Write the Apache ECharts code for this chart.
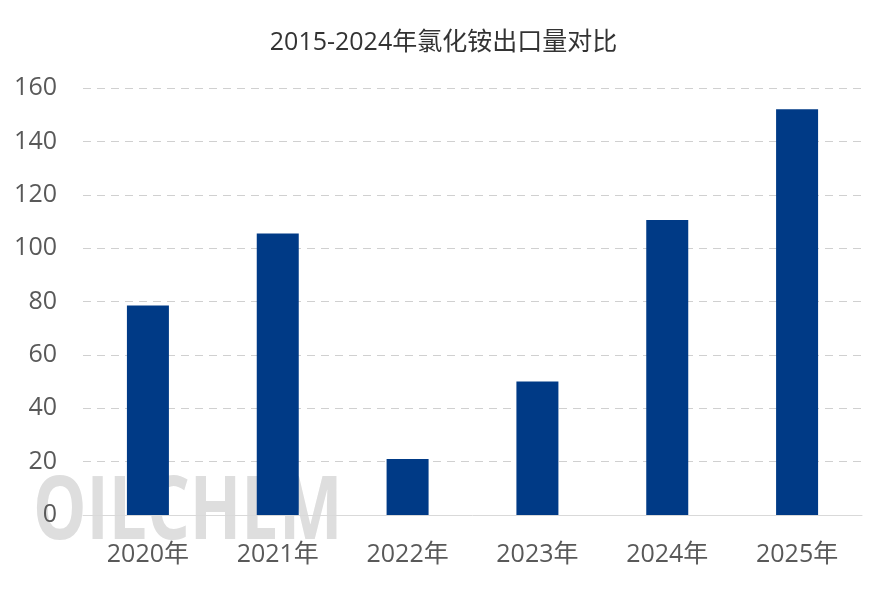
<!DOCTYPE html>
<html><head><meta charset="utf-8">
<script src="https://cdn.jsdelivr.net/npm/echarts@6/dist/echarts.min.js"></script>
<style>html,body{margin:0;padding:0;background:#fff}#c{width:887px;height:590px}</style>
</head><body><div id="c"></div>
<script>
const categories = ['2020年','2021年','2022年','2023年','2024年','2025年'];
const values = [78.5, 105.5, 21, 50, 110.5, 152];
const titleText = '2015-2024年氯化铵出口量对比';
const watermark = 'OILCHEM';

const FONT = '"Open Sans", "Noto Sans CJK SC", sans-serif';
const chart = echarts.init(document.getElementById('c'));
chart.setOption({
  animation: false,
  backgroundColor: '#fff',
  title: { text: titleText, left: 'center', top: 25,
    textStyle: { fontFamily: FONT, fontSize: 25, fontWeight: 'normal', color: '#333' } },
  graphic: [{
    type: 'text', x: 33, y: 514, scaleX: 0.765, z: -10, zlevel: 0, silent: true,
    style: { text: watermark, fontFamily: 'Open Sans', fontSize: 88, fontWeight: 'bold',
      verticalAlign: 'middle', align: 'left', fill: '#dedede' }
  }],
  grid: { left: 83, right: 25, top: 88, bottom: 75, containLabel: false },
  xAxis: { type: 'category', data: categories,
    axisLine: { lineStyle: { color: '#d9d9d9' } }, axisTick: { show: false },
    axisLabel: { fontFamily: FONT, fontSize: 25, color: '#595959', margin: 27 } },
  yAxis: { type: 'value', min: 0, max: 160, interval: 20,
    axisLine: { show: false }, axisTick: { show: false },
    splitLine: { lineStyle: { color: '#d0d0d0', type: [8, 6], width: 1 } },
    axisLabel: { fontFamily: FONT, fontSize: 25, color: '#595959', margin: 26 } },
  series: [{ type: 'bar', data: values, barWidth: 42, itemStyle: { color: '#003A86' }, z: 2 }]
});
</script></body></html>
